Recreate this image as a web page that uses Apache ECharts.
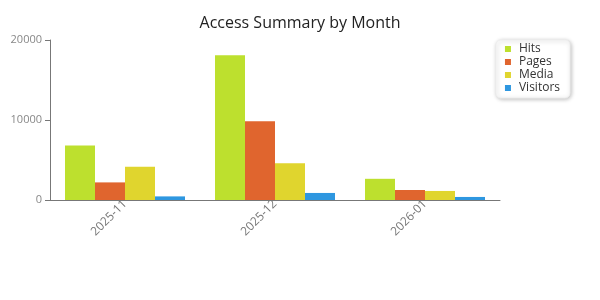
<!DOCTYPE html>
<html><head><meta charset="utf-8">
<script src="https://cdn.jsdelivr.net/npm/echarts@6/dist/echarts.min.js"></script>
<style>html,body{margin:0;padding:0;background:#fff}#c{width:600px;height:300px}</style>
</head><body><div id="c"></div>
<script>
var categories = ['2025-11', '2025-12', '2026-01'];
var hits = [6800, 18100, 2650];
var pages = [2200, 9850, 1250];
var media = [4150, 4600, 1130];
var visitors = [450, 880, 380];
var yTicks = [0, 10000, 20000];

var colors = ['#bde02e', '#e0652e', '#e0d52e', '#2e97e0'];
var names = ['Hits', 'Pages', 'Media', 'Visitors'];
var vals = [hits, pages, media, visitors];
var font = '"Open Sans", "Noto Sans", sans-serif';

var chart = echarts.init(document.getElementById('c'), null, {renderer: 'canvas'});
chart.setOption({
  animation: false,
  color: colors,
  textStyle: {fontFamily: font},
  title: {text: 'Access Summary by Month', left: 'center', top: 10,
    textStyle: {fontSize: 16, fontWeight: 'normal', color: '#222', fontFamily: font}},
  legend: {
    orient: 'vertical', right: 30, top: 40,
    data: names, icon: 'rect', itemWidth: 6, itemHeight: 6, itemGap: 1,
    padding: [3, 10, 4, 9],
    backgroundColor: '#fff', borderColor: '#eee', borderWidth: 1, borderRadius: 5,
    shadowColor: 'rgba(0,0,0,0.25)', shadowBlur: 4, shadowOffsetX: 1, shadowOffsetY: 1,
    textStyle: {fontSize: 12, color: '#333', fontFamily: font, padding: [0, 0, 0, 3]}
  },
  grid: {left: 50, right: 100, top: 40, bottom: 100},
  xAxis: {
    type: 'category', data: categories,
    axisLine: {lineStyle: {color: '#777'}},
    axisTick: {alignWithLabel: true, length: 4, lineStyle: {color: '#777'}},
    axisLabel: {rotate: 45, color: '#777', fontSize: 12, margin: 2}
  },
  yAxis: {
    type: 'value', min: yTicks[0], max: yTicks[yTicks.length - 1], interval: 10000,
    axisLine: {show: true, lineStyle: {color: '#777'}},
    axisTick: {show: true, length: 5, lineStyle: {color: '#777'}},
    splitLine: {show: false},
    axisLabel: {color: '#888', fontSize: 11, margin: 8, formatter: function (v) { return String(v); }}
  },
  series: names.map(function (n, i) {
    return {name: n, type: 'bar', data: vals[i], barGap: '0%', barCategoryGap: '20%',
      itemStyle: {color: colors[i]}};
  })
});
</script></body></html>
